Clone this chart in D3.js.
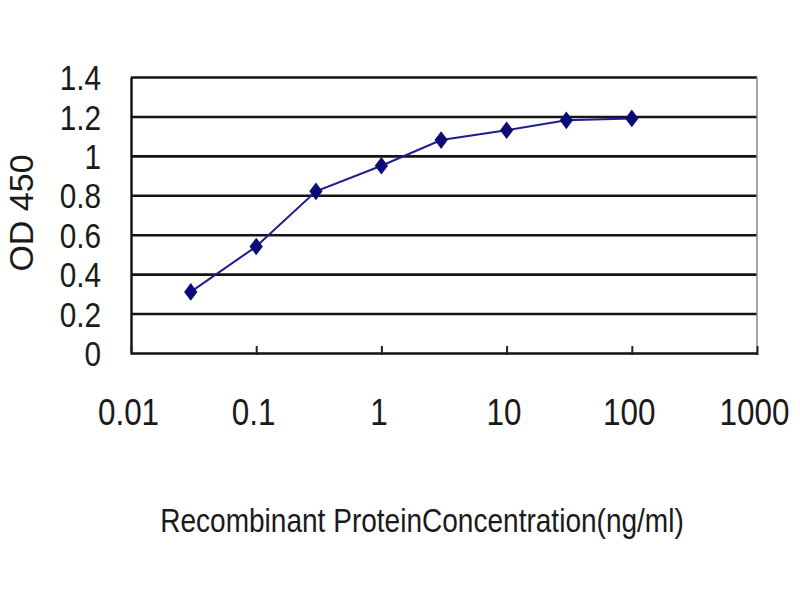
<!DOCTYPE html>
<html>
<head>
<meta charset="utf-8">
<script src="https://cdn.jsdelivr.net/npm/d3@7/dist/d3.min.js"></script>
<style>
  html, body { margin: 0; padding: 0; background: #fff; }
  svg { display: block; }
  text { font-family: Arial, "Liberation Sans", sans-serif; fill: #1a1a1a; }
</style>
</head>
<body>
<svg id="chart" width="800" height="600"></svg>
<script>
// ---- data ----
const concentrations = [0.03, 0.1, 0.3, 1, 3, 10, 30, 100];
const odValues = [0.31, 0.54, 0.82, 0.95, 1.08, 1.13, 1.18, 1.19];
const yTicks = [0, 0.2, 0.4, 0.6, 0.8, 1, 1.2, 1.4];
const yTickLabels = ["0", "0.2", "0.4", "0.6", "0.8", "1", "1.2", "1.4"];
const xTicks = [0.01, 0.1, 1, 10, 100, 1000];
const xTickLabels = ["0.01", "0.1", "1", "10", "100", "1000"];
const xTitle = "Recombinant ProteinConcentration(ng/ml)";
const yTitle = "OD 450";

// ---- layout ----
const plotL = 131, plotR = 757, plotT = 77, plotB = 353;
const sx = 0.85; // horizontal text compression

const svg = d3.select("#chart");
svg.append("rect").attr("width", 800).attr("height", 600).attr("fill", "#fff");

const x = d3.scaleLog().domain([0.01, 1000]).range([plotL, plotR]);
const y = d3.scaleLinear().domain([0, 1.4]).range([plotB, plotT]);

// gridlines
const grid = svg.append("g")
  .attr("transform", `translate(${plotL},0)`)
  .call(d3.axisLeft(y).tickValues(yTicks.filter(v => v > 0)).tickSize(-(plotR - plotL)).tickFormat(""));
grid.select(".domain").remove();
grid.selectAll(".tick line").attr("stroke", "#151515").attr("stroke-width", 2.6);

// right border
svg.append("line").attr("x1", plotR).attr("x2", plotR).attr("y1", plotT).attr("y2", plotB)
  .attr("stroke", "#8a8a8a").attr("stroke-width", 1.5);

// y axis
const yAxis = svg.append("g")
  .attr("transform", `translate(${plotL},0)`)
  .call(d3.axisLeft(y).tickValues(yTicks).tickSize(0)
    .tickFormat((d, i) => yTickLabels[i]));
yAxis.select(".domain").attr("stroke", "#111").attr("stroke-width", 2.4);
yAxis.selectAll(".tick text")
  .attr("x", -30 / sx)
  .attr("dy", "0.36em")
  .attr("transform", `scale(${sx},1)`)
  .style("font-size", "35px")
  .style("fill", "#1a1a1a");

// x axis
const xAxis = svg.append("g")
  .attr("transform", `translate(0,${plotB})`)
  .call(d3.axisBottom(x).tickValues(xTicks).tickSize(0)
    .tickFormat((d, i) => xTickLabels[i]));
xAxis.select(".domain").attr("stroke", "#111").attr("stroke-width", 2.4);
xAxis.selectAll(".tick text")
  .attr("x", -3 / sx)
  .attr("y", 72)
  .attr("dy", 0)
  .attr("transform", `scale(${sx},1)`)
  .style("font-size", "37px")
  .style("fill", "#1a1a1a");
// small tick marks rising from the x axis
xAxis.selectAll(".tick").append("line")
  .attr("y1", -7).attr("y2", 2)
  .attr("stroke", "#222").attr("stroke-width", 2);

// data line
const pts = concentrations.map((c, i) => [x(c), y(odValues[i])]);
svg.append("path")
  .datum(pts)
  .attr("d", d3.line())
  .attr("fill", "none")
  .attr("stroke", "#1e1e8c")
  .attr("stroke-width", 2);

// markers
svg.append("g").selectAll("path")
  .data(pts)
  .join("path")
  .attr("transform", d => `translate(${d[0]},${d[1]}) scale(1.3,1)`)
  .attr("d", d3.symbol(d3.symbolDiamond, 90)())
  .attr("fill", "#0c0c78");

// axis titles
svg.append("text")
  .attr("transform", `translate(422,532) scale(${sx},1)`)
  .attr("text-anchor", "middle")
  .style("font-size", "33px")
  .text(xTitle);

svg.append("text")
  .attr("transform", "translate(33,213) rotate(-90)")
  .attr("text-anchor", "middle")
  .style("font-size", "34px")
  .text(yTitle);
</script>
</body>
</html>
